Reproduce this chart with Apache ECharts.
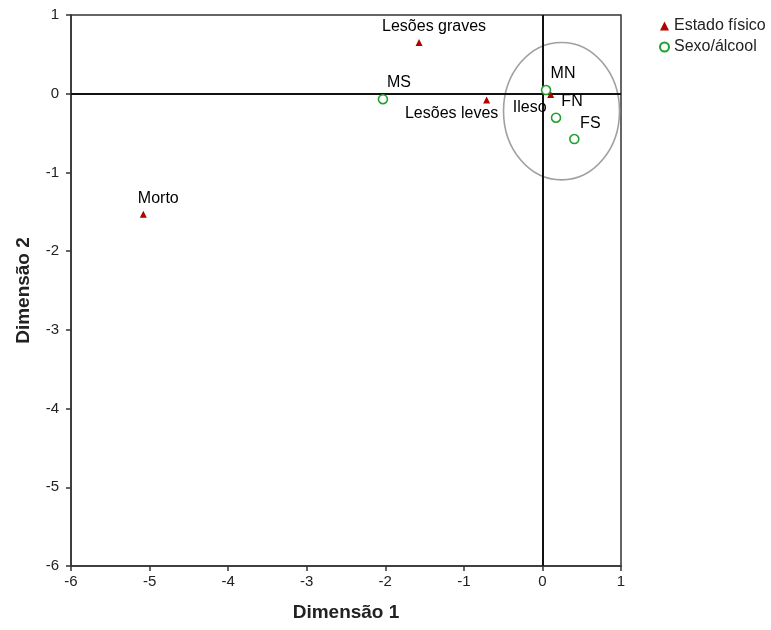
<!DOCTYPE html>
<html>
<head>
<meta charset="utf-8">
<script src="https://cdn.jsdelivr.net/npm/echarts@6/dist/echarts.min.js"></script>
<style>
html,body{margin:0;padding:0;background:#fff;}
#chart{width:771px;height:630px;}
</style>
</head>
<body>
<div id="chart"></div>
<script>
// ---- data ----
const estadoNames = ['Lesões graves', 'Lesões leves', 'Morto', 'Ileso'];
const estadoX = [-1.57, -0.71, -5.08, 0.105];
const estadoY = [0.65, -0.08, -1.53, -0.01];

const sexoNames = ['MS', 'MN', 'FN', 'FS'];
const sexoX = [-2.03, 0.046, 0.173, 0.406];
const sexoY = [-0.07, 0.047, -0.305, -0.576];

// ellipse annotation: centre x, centre y, radius x, radius y (data units)
const ellipse = [[0.243, -0.222, 0.738, 0.873]];

const xTicks = [-6, -5, -4, -3, -2, -1, 0, 1];

// ---- label placement (styling) ----
const labelOffsets = {
  'Lesões graves': [15, -16],
  'Lesões leves': [-35, 14],
  'Morto': [15, -16],
  'Ileso': [-21, 13],
  'MS': [16, -17],
  'MN': [17, -16],
  'FN': [16, -16],
  'FS': [16, -15]
};

const FONT = "'Liberation Sans', Arial, sans-serif";
const RED = '#b00000';
const GREEN = '#21a030';

function makeData(names, xs, ys) {
  return names.map((n, i) => ({
    name: n,
    value: [xs[i], ys[i]],
    label: { offset: labelOffsets[n] }
  }));
}

const chart = echarts.init(document.getElementById('chart'), null, { renderer: 'canvas' });

const axisCommon = {
  min: -6, max: 1, interval: 1,
  splitLine: { show: false },
  axisLine: { show: true, onZero: false, lineStyle: { color: '#333', width: 1.5 } },
  axisTick: { show: true, inside: false, length: 5, lineStyle: { color: '#333', width: 1.5 } },
  axisLabel: { color: '#222', fontSize: 15, fontFamily: FONT },
  nameLocation: 'middle',
  nameTextStyle: { color: '#222', fontSize: 19, fontWeight: 'bold', fontFamily: FONT }
};

function labelStyle() {
  return {
    show: true, position: 'inside', formatter: '{b}',
    color: '#000', fontSize: 16, fontFamily: FONT,
    textBorderWidth: 0, textBorderColor: 'transparent'
  };
}

chart.setOption({
  animation: false,
  backgroundColor: '#fff',
  textStyle: { fontFamily: FONT },
  grid: { left: 71, right: 150, top: 15, bottom: 64, show: true, borderColor: '#333', borderWidth: 1.5, containLabel: false },
  legend: {
    orient: 'vertical',
    left: 654, top: 13,
    itemWidth: 9, itemHeight: 9, itemGap: 5,
    textStyle: { fontSize: 16, color: '#222', fontFamily: FONT, padding: [0, 0, 0, 0] },
    data: [
      { name: 'Estado físico', icon: 'triangle' },
      { name: 'Sexo/álcool', icon: 'circle' }
    ]
  },
  xAxis: Object.assign({}, axisCommon, {
    type: 'value', name: 'Dimensão 1', nameGap: 37,
    axisLabel: Object.assign({}, axisCommon.axisLabel, { margin: 8, customValues: xTicks })
  }),
  yAxis: Object.assign({}, axisCommon, {
    type: 'value', name: 'Dimensão 2', nameGap: 38,
    axisLabel: Object.assign({}, axisCommon.axisLabel, { margin: 12 })
  }),
  series: [
    {
      type: 'custom',
      name: 'ellipse',
      silent: true,
      clip: true,
      z: 1,
      encode: { x: 0, y: 1 },
      data: ellipse,
      renderItem: function (params, api) {
        const c = api.coord([api.value(0), api.value(1)]);
        const s = api.size([api.value(2), api.value(3)]);
        return {
          type: 'ellipse',
          shape: { cx: c[0], cy: c[1], rx: s[0], ry: s[1] },
          style: { fill: 'none', stroke: '#a0a0a0', lineWidth: 1.6 }
        };
      }
    },
    {
      type: 'scatter',
      name: 'Estado físico',
      symbol: 'triangle',
      symbolSize: 7,
      z: 4,
      itemStyle: { color: RED, opacity: 1 },
      label: labelStyle(),
      data: makeData(estadoNames, estadoX, estadoY),
      markLine: {
        silent: true,
        symbol: 'none',
        label: { show: false },
        lineStyle: { color: '#111', width: 2, type: 'solid' },
        data: [{ xAxis: 0 }, { yAxis: 0 }],
        z: 2
      }
    },
    {
      type: 'scatter',
      name: 'Sexo/álcool',
      symbol: 'circle',
      symbolSize: 9,
      z: 5,
      itemStyle: { color: '#fff', borderColor: GREEN, borderWidth: 1.6, opacity: 1 },
      label: labelStyle(),
      data: makeData(sexoNames, sexoX, sexoY)
    }
  ]
});
</script>
</body>
</html>
